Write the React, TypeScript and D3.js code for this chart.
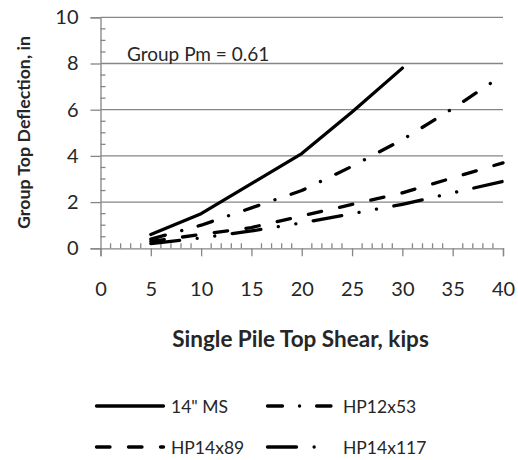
import React, { useEffect, useRef } from 'react';
import * as d3 from 'd3';

// values
const shear = [5, 10, 15, 20, 25, 30, 35, 40];
const ms14 = [0.6, 1.5, 2.8, 4.1, 5.9, 7.8];
const hp12x53 = [0.4, 1.0, 1.75, 2.5, 3.55, 4.7, 6.05, 7.5];
const hp14x89 = [0.3, 0.6, 0.9, 1.4, 1.9, 2.4, 3.05, 3.7];
const hp14x117 = [0.2, 0.45, 0.75, 1.1, 1.5, 1.9, 2.4, 2.9];
const seriesNames = ['14" MS', 'HP12x53', 'HP14x89', 'HP14x117'];
const xTicks = [0, 5, 10, 15, 20, 25, 30, 35, 40];
const yTicks = [0, 2, 4, 6, 8, 10];
const note = 'Group Pm = 0.61';

const dashes = ['none', '15 17 0.1 17', '13.5 18.5', '29 17.6 0.1 17.6 0.1 17.6'];

const App: React.FC = () => {
  const svgRef = useRef<SVGSVGElement>(null);

  useEffect(() => {
    if (!svgRef.current) return;
    const svg = d3.select(svgRef.current);
    svg.selectAll('*').remove();

    const font = 'Lato, "Open Sans", sans-serif';
    const grey = '#868686';

    const x = d3.scaleLinear().domain([0, 40]).range([100.5, 503]);
    const y = d3.scaleLinear().domain([0, 10]).range([248.3, 17.3]);

    const data = [ms14, hp12x53, hp14x89, hp14x117];

    // gridlines
    svg.append('g')
      .selectAll('line')
      .data(yTicks.filter(t => t > 0))
      .join('line')
      .attr('x1', x(0))
      .attr('x2', x(40))
      .attr('y1', d => y(d))
      .attr('y2', d => y(d))
      .attr('stroke', grey)
      .attr('stroke-width', 1.3);

    // minor ticks (inside)
    const g = svg.append('g').attr('stroke', grey).attr('stroke-width', 1.3);
    g.selectAll('line.ym')
      .data(d3.range(0.5, 10, 0.5).filter(v => v % 2 !== 0))
      .join('line')
      .attr('class', 'ym')
      .attr('x1', x(0)).attr('x2', x(0) + 5)
      .attr('y1', d => y(d)).attr('y2', d => y(d));
    g.selectAll('line.xm')
      .data(d3.range(1, 40, 1).filter(v => v % 5 !== 0))
      .join('line')
      .attr('class', 'xm')
      .attr('x1', d => x(d)).attr('x2', d => x(d))
      .attr('y1', y(0)).attr('y2', y(0) - 5);

    // axes
    const xAxis = svg.append('g')
      .attr('transform', `translate(0,${y(0)})`)
      .call(d3.axisBottom(x).tickValues(xTicks).tickSize(8).tickPadding(26));
    const yAxis = svg.append('g')
      .attr('transform', `translate(${x(0)},0)`)
      .call(d3.axisLeft(y).tickValues(yTicks).tickSize(10).tickPadding(12));
    [xAxis, yAxis].forEach(a => {
      a.select('.domain').attr('stroke', grey).attr('stroke-width', 1.3);
      a.selectAll('.tick line').attr('stroke', grey).attr('stroke-width', 1.3);
      a.selectAll('.tick text')
        .attr('fill', '#262626')
        .style('font-family', font)
        .style('font-size', '20px');
    });

    // series
    const line = d3.line<number>()
      .x((_, i) => x(shear[i]))
      .y(d => y(d));
    data.forEach((vals, i) => {
      svg.append('path')
        .datum(vals)
        .attr('d', line)
        .attr('fill', 'none')
        .attr('stroke', '#000')
        .attr('stroke-width', 3.3)
        .attr('stroke-linecap', 'round')
        .attr('stroke-linejoin', 'round')
        .attr('stroke-dasharray', dashes[i]);
    });

    svg.append('text')
      .attr('x', 127)
      .attr('y', 61)
      .attr('fill', '#262626')
      .style('font-family', font)
      .style('font-size', '19px')
      .text(note);

    // axis titles
    svg.append('text')
      .attr('x', 300.5)
      .attr('y', 347)
      .attr('text-anchor', 'middle')
      .attr('fill', '#262626')
      .style('font-family', font)
      .style('font-size', '22.5px')
      .style('font-weight', 'bold')
      .text('Single Pile Top Shear, kips');
    svg.append('text')
      .attr('transform', 'translate(30,132.5) rotate(-90)')
      .attr('text-anchor', 'middle')
      .attr('fill', '#262626')
      .style('font-family', font)
      .style('font-size', '17.8px')
      .style('font-weight', 'bold')
      .text('Group Top Deflection, in');

    // legend
    const legendPos = [
      { lx: 95, ly: 406, len: 68.5 },
      { lx: 266, ly: 406, len: 65 },
      { lx: 95, ly: 447, len: 68.5 },
      { lx: 266, ly: 447, len: 65 },
    ];
    seriesNames.forEach((name, i) => {
      const { lx, ly, len } = legendPos[i];
      const item = svg.append('g').attr('transform', `translate(${lx},${ly})`);
      item.append('line')
        .attr('x1', 1.5).attr('x2', len)
        .attr('stroke', '#000')
        .attr('stroke-width', 3.3)
        .attr('stroke-linecap', 'round')
        .attr('stroke-dasharray', dashes[i]);
      item.append('text')
        .attr('x', i % 2 === 0 ? 76 : 77)
        .attr('y', 6.5)
        .attr('fill', '#262626')
        .style('font-family', font)
        .style('font-size', '17.5px')
        .text(name);
    });
  }, []);

  return (
    <div style={{ position: 'absolute', left: 0, top: 0 }}>
      <svg ref={svgRef} width={518} height={460} style={{ display: 'block', background: '#fff' }} />
    </div>
  );
};

export default App;
